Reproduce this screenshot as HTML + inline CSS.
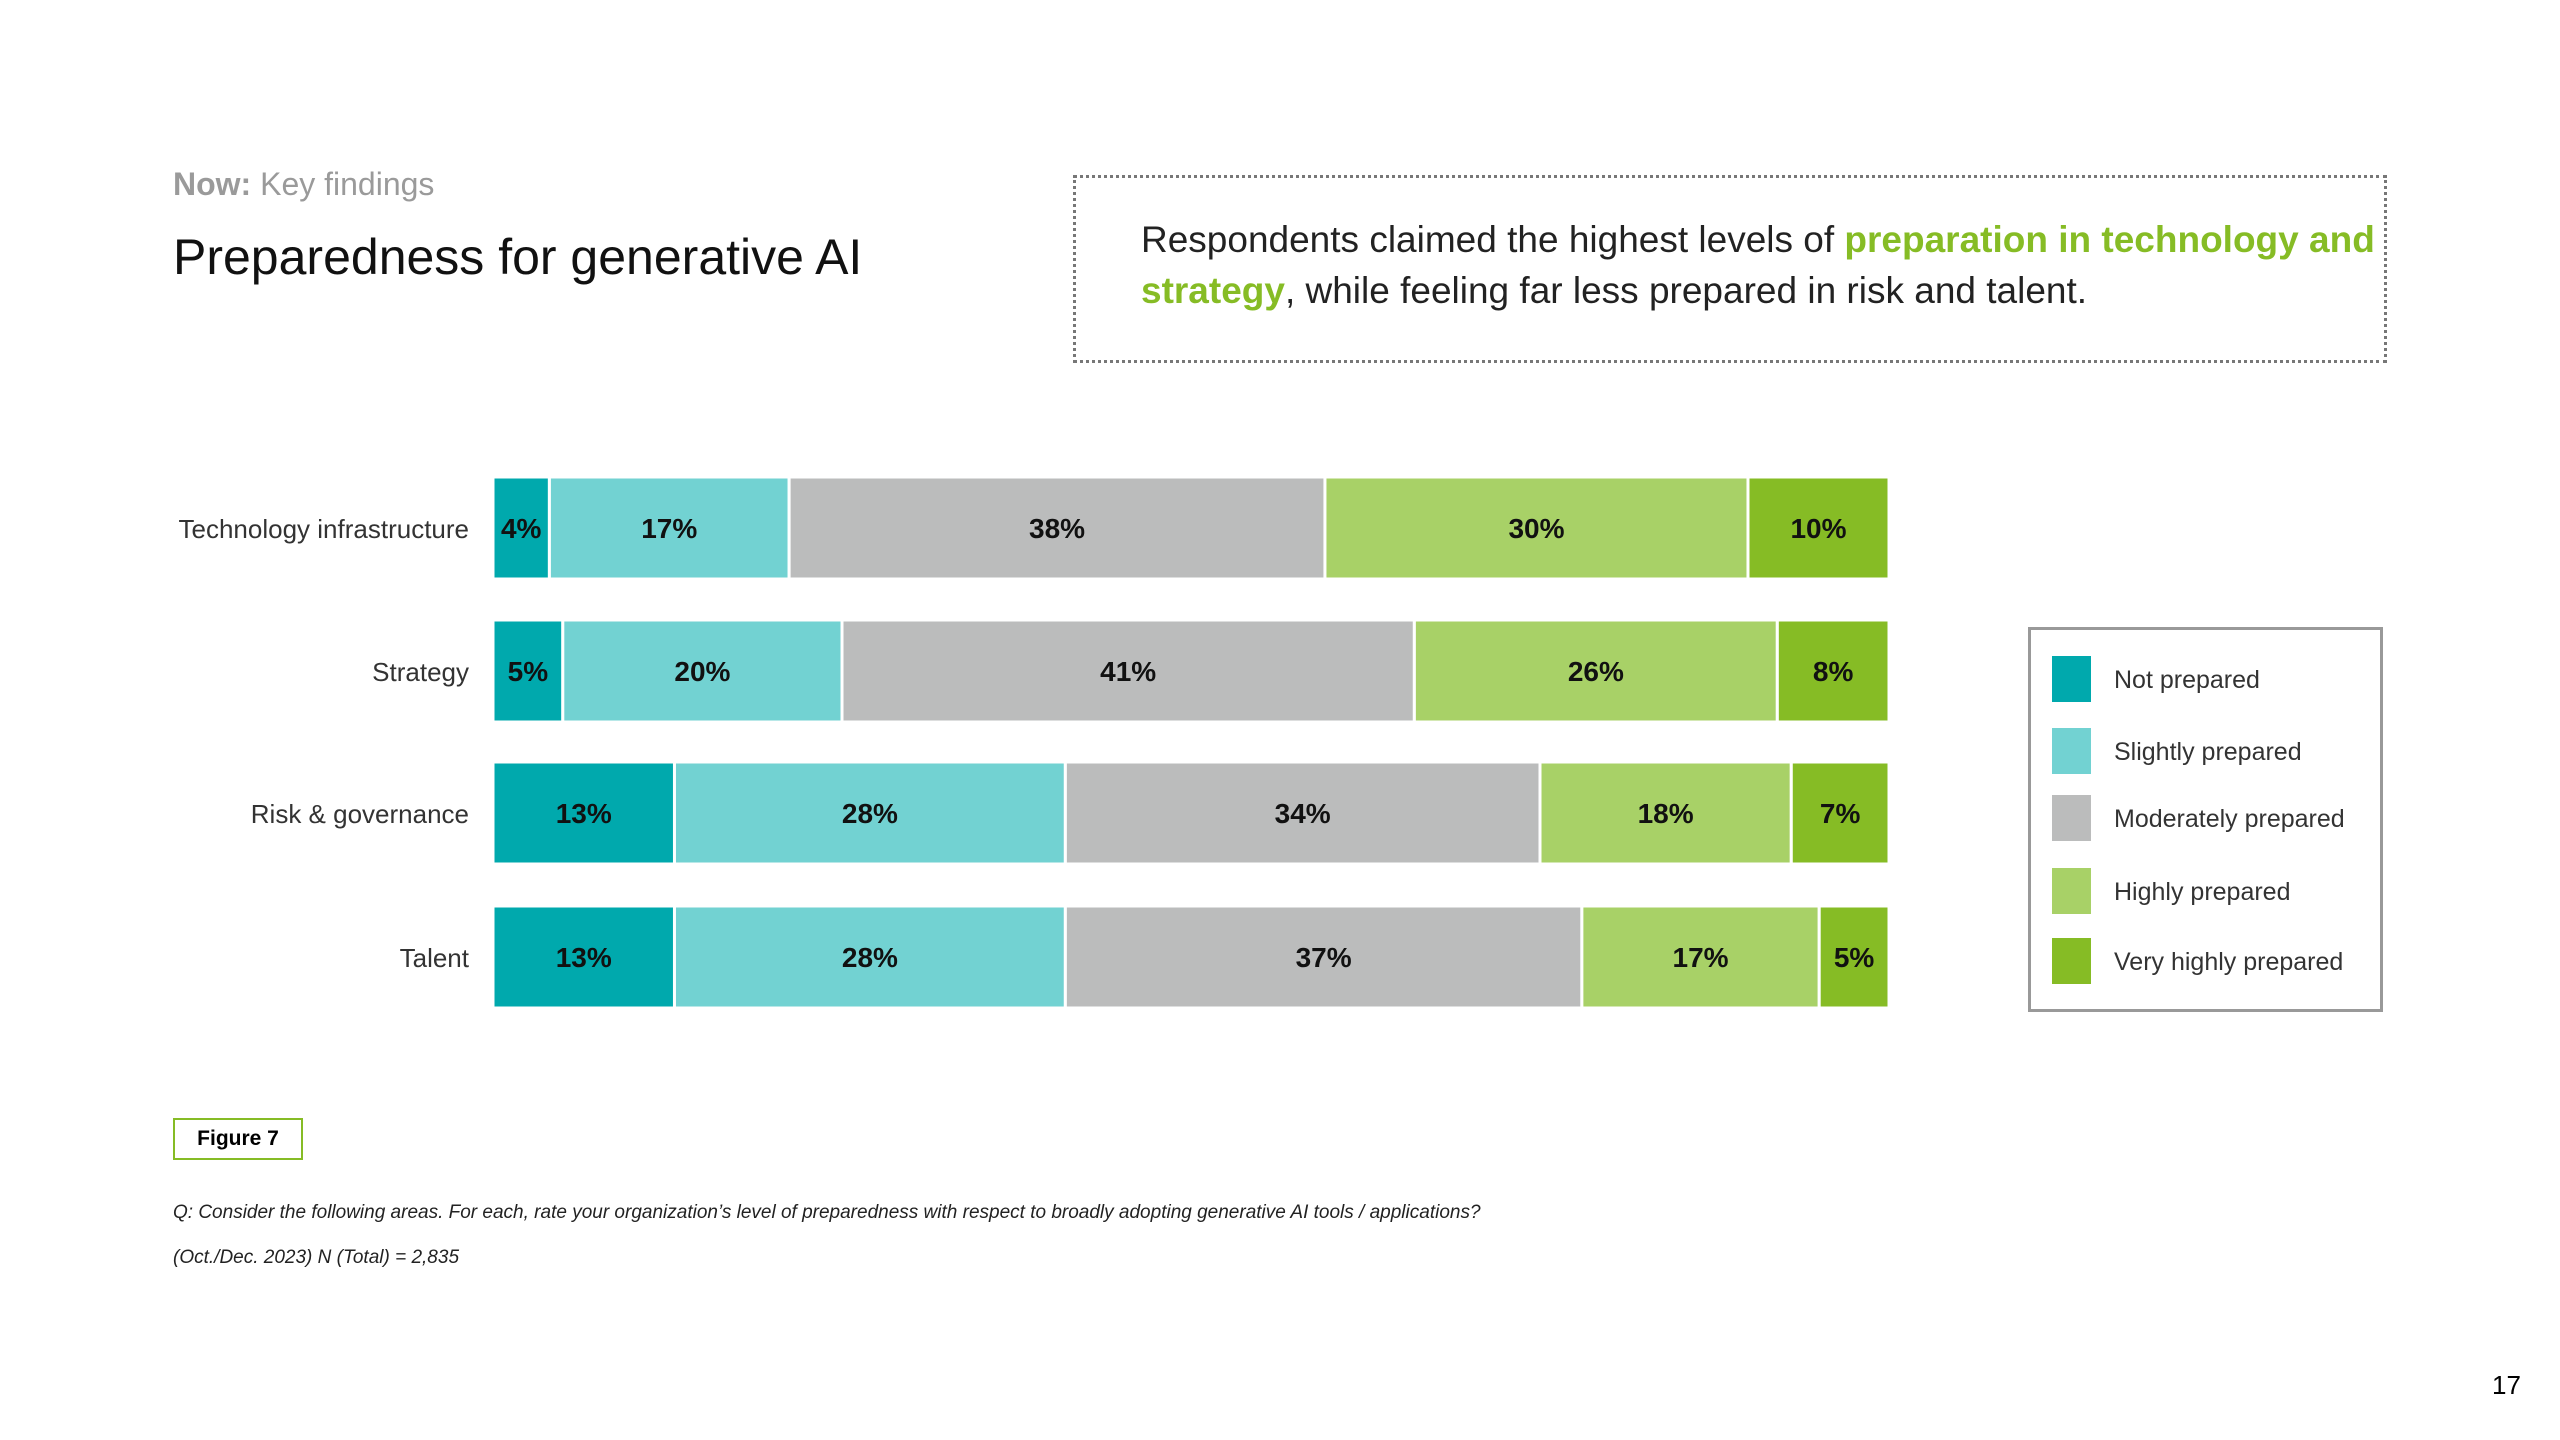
<!DOCTYPE html>
<html><head><meta charset="utf-8"><style>
body{margin:0;width:2560px;height:1440px;background:#fff;font-family:"Liberation Sans",sans-serif;position:relative;overflow:hidden;color:#000}
.a{position:absolute}
</style></head><body>
<div class="a" style="left:173px;top:166px;font-size:32px;color:#9a9a9a"><b>Now:</b> Key findings</div>
<div class="a" style="left:173px;top:228px;font-size:50px;color:#111">Preparedness for generative AI</div>
<div class="a" style="left:1073px;top:175px;width:1308px;height:182px;border:3px dotted #777"></div>
<div class="a" style="left:1141px;top:214px;width:1240px;font-size:37px;line-height:51px;color:#222">Respondents claimed the highest levels of <b style="color:#86bc25">preparation in technology and strategy</b>, while feeling far less prepared in risk and talent.</div>
<svg class="a" style="left:0;top:0" width="2560" height="1440" id="chart"></svg>
<div class="a" style="left:2028px;top:627px;width:349px;height:379px;border:3px solid #999"></div>
<div class="a" style="left:173px;top:1118px;width:126px;height:38px;border:2px solid #86bc25;font-size:21px;font-weight:bold;text-align:center;line-height:38px">Figure 7</div>
<div class="a" style="left:173px;top:1202px;font-size:19px;font-style:italic;color:#222">Q: Consider the following areas. For each, rate your organization’s level of preparedness with respect to broadly adopting generative AI tools / applications?</div>
<div class="a" style="left:173px;top:1247px;font-size:19px;font-style:italic;color:#222">(Oct./Dec. 2023) N (Total) = 2,835</div>
<div class="a" style="left:2492px;top:1370px;font-size:26px">17</div>
<script>
const categories=["Technology infrastructure","Strategy","Risk & governance","Talent"];
const seriesNames=["Not prepared","Slightly prepared","Moderately prepared","Highly prepared","Very highly prepared"];
const notPrepared=[4,5,13,13];
const slightly=[17,20,28,28];
const moderately=[38,41,34,37];
const highly=[30,26,18,17];
const veryHighly=[10,8,7,5];
const series=[notPrepared,slightly,moderately,highly,veryHighly];
const colors=["#00a9ad","#72d2d2","#bbbcbc","#a8d167","#86bc25"];
const NS="http://www.w3.org/2000/svg";
const svg=document.getElementById('chart');
const X0=493,X1=1889;
const rowTops=[477,620,762,906],BH=102;
function yPos(i){return rowTops[i];}
function xScale(v,tot){return (X1-X0)*v/tot;}
function mk(t,a){const e=document.createElementNS(NS,t);for(const k in a)e.setAttribute(k,a[k]);svg.appendChild(e);return e;}
categories.forEach((c,i)=>{
  const tot=series.reduce((s,a)=>s+a[i],0);
  let x=X0;const y=yPos(i);
  const lab=mk('text',{x:469,y:y+BH/2+10,'text-anchor':'end','font-size':26,fill:'#333','font-family':'Liberation Sans,sans-serif'});
  lab.textContent=c;
  
  
  series.forEach((s,j)=>{
    const w=xScale(s[i],tot);
    const r=mk('rect',{x:x,y:y,width:w,height:BH,fill:colors[j],stroke:'#fff','stroke-width':3});
    
    
    const t=mk('text',{x:x+w/2,y:y+BH/2+10,'text-anchor':'middle','font-size':28,'font-weight':'bold',fill:'#111','font-family':'Liberation Sans,sans-serif'});
    t.textContent=s[i]+'%';
    
    
    x+=w;
  });
});
const ly=[676,748,815,888,958];
seriesNames.forEach((n,j)=>{
  const r=mk('rect',{x:2052,y:ly[j]-20,width:39,height:46,fill:colors[j]});
  
  
  const t=mk('text',{x:2114,y:ly[j]+12,'font-size':25,fill:'#333','font-family':'Liberation Sans,sans-serif'});
  t.textContent=n;
  
  
});
</script>
</body></html>
